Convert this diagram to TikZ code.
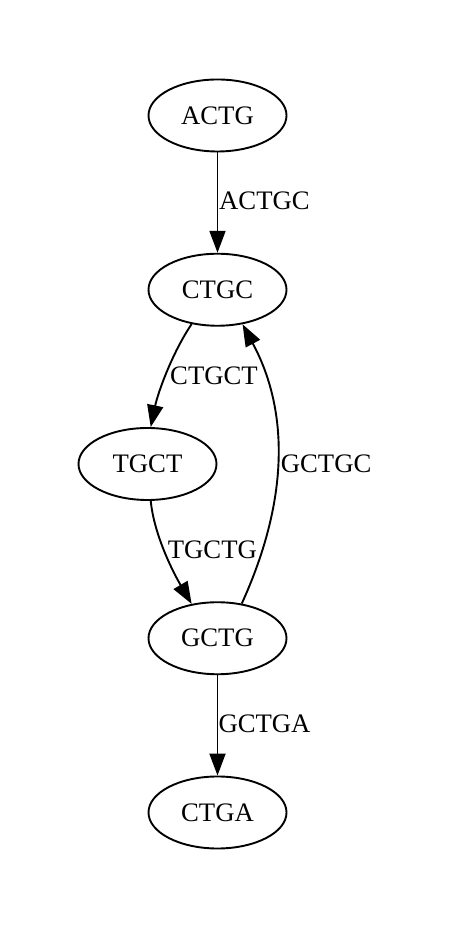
\documentclass[tikz,border=0pt]{standalone}
\usepackage{fontspec}
\setmainfont{Liberation Serif}
\usetikzlibrary{arrows.meta,shapes.geometric}
\begin{document}
\begin{tikzpicture}[x=1pt,y=1pt,
  state/.style={draw,ellipse,line width=1.9pt,minimum width=138pt,minimum height=72pt,inner sep=0pt,font=\fontsize{26.7}{32}\selectfont},
  edge/.style={line width=1.9pt,-{Triangle[length=22pt,width=16pt]}},
  elabel/.style={anchor=base west,inner sep=0pt,font=\fontsize{26.7}{32}\selectfont}]
\path[use as bounding box] (0,0) rectangle (452,928);
\node[state] (ACTG) at (217.5,812.5) {ACTG};
\node[state] (CTGC) at (217.5,638.25) {CTGC};
\node[state] (TGCT) at (147.5,464) {TGCT};
\node[state] (GCTG) at (217.5,289.75) {GCTG};
\node[state] (CTGA) at (217.5,115.5) {CTGA};
\draw[edge] (ACTG) -- (CTGC);
\draw[edge] (CTGC.233) .. controls (172.2,575.1) and (157.9,535.3) .. (TGCT.85);
\draw[edge] (TGCT.275) .. controls (154.2,392.1) and (174,354.2) .. (GCTG.127);
\draw[edge] (GCTG.55) .. controls (288,426) and (290,515) .. (CTGC.306);
\draw[edge] (GCTG) -- (CTGA);
\node[elabel] (l1) at (219,718) {ACTGC};
\node[elabel] (l2) at (170,543) {CTGCT};
\node[elabel] (l3) at (280.7,455.7) {GCTGC};
\node[elabel] (l4) at (167.7,369.7) {TGCTG};
\node[elabel] (l5) at (218.3,195.3) {GCTGA};
\end{tikzpicture}
\end{document}
